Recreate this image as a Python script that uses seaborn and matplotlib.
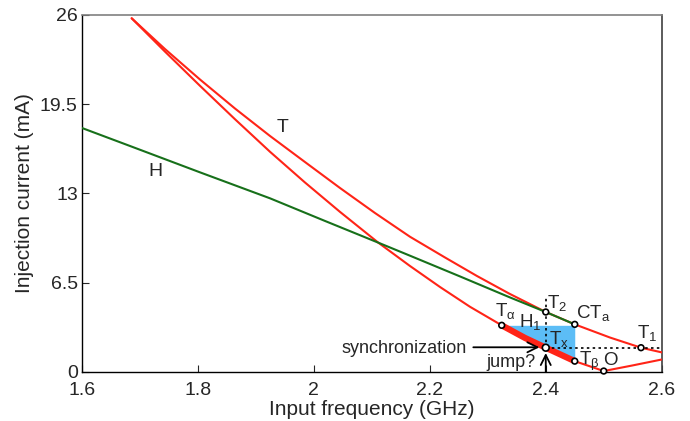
import matplotlib
matplotlib.use("Agg")
import matplotlib.pyplot as plt
import seaborn as sns
import pandas as pd

# ---- data ----
# outer red curve "T"
t_outer_f = [1.6857, 1.7432, 1.8036, 1.8639, 1.9243, 1.9847, 2.0451, 2.1054, 2.1658,
             2.2262, 2.2814, 2.3383, 2.40, 2.45, 2.5108, 2.5643, 2.60]
t_outer_i = [25.76, 23.52, 21.30, 19.19, 17.19, 15.29, 13.40, 11.58, 9.85,
             8.34, 6.99, 5.68, 4.37, 3.47, 2.51, 1.77, 1.43]
# inner red curve (through Talpha, Tx, Tbeta, O)
t_inner_f = [1.6857, 1.7432, 1.8036, 1.8639, 1.9243, 1.9847, 2.0451, 2.1111, 2.1658,
             2.2176, 2.2693, 2.3240, 2.3642, 2.40, 2.45, 2.50, 2.5488, 2.60]
t_inner_i = [25.76, 23.33, 20.84, 18.41, 16.04, 13.80, 11.66, 9.42, 7.72,
             6.19, 4.75, 3.40, 2.48, 1.77, 0.79, 0.07, 0.47, 0.91]
# green curve "H"
h_f = [1.60, 1.6828, 1.8036, 1.9243, 2.0192, 2.1111, 2.1658, 2.2521, 2.3383, 2.40, 2.45]
h_i = [17.77, 16.46, 14.54, 12.65, 11.00, 9.42, 8.47, 6.96, 5.43, 4.37, 3.47]
# synchronization band (thick red part of inner curve, Talpha -> Tbeta)
band_f = [2.3240, 2.3642, 2.40, 2.45]
band_i = [3.40, 2.48, 1.77, 0.79]
band_top = 3.40

# special points
pt_names = ["Talpha", "T2", "CTa", "Tx", "Tbeta", "O", "T1"]
pt_f = [2.3240, 2.40, 2.45, 2.40, 2.45, 2.50, 2.5643]
pt_i = [3.40, 4.37, 3.47, 1.77, 0.79, 0.07, 1.77]

x_ticks = [1.6, 1.8, 2.0, 2.2, 2.4, 2.6]
x_ticklabels = ["1.6", "1.8", "2", "2.2", "2.4", "2.6"]
y_ticks = [0, 6.5, 13, 19.5, 26]
y_ticklabels = ["0", "6.5", "13", "19.5", "26"]

# ---- style ----
sns.set_theme(style="white")
plt.rcParams["font.family"] = ["Liberation Sans", "DejaVu Sans"]
plt.rcParams["mathtext.fontset"] = "custom"
plt.rcParams["mathtext.rm"] = "Liberation Sans"
plt.rcParams["mathtext.it"] = "Liberation Sans"
plt.rcParams["mathtext.bf"] = "Liberation Sans"
plt.rcParams["mathtext.sf"] = "Liberation Sans"

RED = "#ff2417"
GREEN = "#17701a"
BLUE = "#5cbdf6"

fig = plt.figure(figsize=(6.9, 4.21), dpi=100)
ax = fig.add_axes([82 / 690, 1 - 372 / 421, (661.7 - 82) / 690, (372 - 15) / 421])

# blue region
ax.fill_between(band_f, band_i, [band_top] * len(band_f), color=BLUE, lw=0, zorder=1)

df_outer = pd.DataFrame({"f": t_outer_f, "i": t_outer_i})
df_inner = pd.DataFrame({"f": t_inner_f, "i": t_inner_i})
df_h = pd.DataFrame({"f": h_f, "i": h_i})
df_band = pd.DataFrame({"f": band_f, "i": band_i})

sns.lineplot(data=df_outer, x="f", y="i", sort=False, estimator=None, color=RED, lw=1.5, ax=ax, zorder=3)
sns.lineplot(data=df_inner, x="f", y="i", sort=False, estimator=None, color=RED, lw=1.5, ax=ax, zorder=3)
sns.lineplot(data=df_h, x="f", y="i", sort=False, estimator=None, color=GREEN, lw=1.5, ax=ax, zorder=3)
sns.lineplot(data=df_band, x="f", y="i", sort=False, estimator=None, color=RED, lw=4.5, ax=ax, zorder=4,
             solid_capstyle="butt")

# dotted guide lines
ax.plot([pt_f[3], pt_f[3]], [pt_i[3], 5.46], ls=(0, (1.5, 2)), color="black", lw=1.2, zorder=5)
ax.plot([pt_f[3], 2.60], [pt_i[3], pt_i[3]], ls=(0, (1.5, 2)), color="black", lw=1.2, zorder=5)

# markers
df_pts = pd.DataFrame({"f": pt_f, "i": pt_i, "name": pt_names})
sizes = [24 if n == "Tx" else 17 for n in pt_names]
sns.scatterplot(data=df_pts, x="f", y="i", s=sizes, facecolor="white", edgecolor="black",
                linewidth=1.2, ax=ax, zorder=6, clip_on=False)

# arrows
ax.annotate("", xy=(2.389, 1.80), xytext=(2.275, 1.80),
            arrowprops=dict(arrowstyle="->", lw=1.3, color="black", mutation_scale=18,
                            shrinkA=0, shrinkB=0), zorder=7)
ax.annotate("", xy=(2.40, 1.38), xytext=(2.40, 0.0),
            arrowprops=dict(arrowstyle="->", lw=1.3, color="black", mutation_scale=18,
                            shrinkA=0, shrinkB=0), zorder=7)

# text labels
ax.text(1.9467, 17.84, "T", fontsize=14, ha="center", va="center")
ax.text(1.7259, 14.57, "H", fontsize=14, ha="center", va="center")
lab = dict(fontsize=13.5, va="baseline", ha="left", zorder=8)
ax.text(2.4029, 4.66, r"T$_{2}$", **lab)
ax.text(2.4522, 3.91, r"CT$_{a}$", **lab)
ax.text(2.5569, 2.45, r"T$_{1}$", **lab)
ax.text(2.3124, 4.10, r"T$_{α}$", **lab)
ax.text(2.3545, 3.30, r"H$_{1}$", **lab)
ax.text(2.4061, 2.04, r"T$_{x}$", **lab)
ax.text(2.4579, 0.51, r"T$_{β}$", **lab)
ax.text(2.4982, 0.51, "O", **lab)
ax.text(2.048, 1.36, "synchronization", fontsize=13, ha="left", va="baseline")
ax.text(2.2981, 0.39, "jump?", fontsize=13, ha="left", va="baseline")

# axes
ax.set_xlim(1.6, 2.6)
ax.set_ylim(0, 26)
ax.set_xticks(x_ticks)
ax.set_xticklabels(x_ticklabels)
ax.set_yticks(y_ticks)
ax.set_yticklabels(y_ticklabels)
ax.tick_params(axis="both", direction="in", length=5, width=0.8, labelsize=14,
               bottom=True, left=True, top=False, right=False)
ax.tick_params(axis="x", pad=7)
ax.tick_params(axis="y", pad=3)
ax.set_xlabel("Input frequency (GHz)", fontsize=15, labelpad=1)
ax.set_ylabel("Injection current (mA)", fontsize=15, labelpad=4)
for side in ["left", "bottom"]:
    ax.spines[side].set_color("black")
    ax.spines[side].set_linewidth(1.0)
ax.spines["top"].set_color("#808080")
ax.spines["right"].set_color("#404040")
ax.spines["top"].set_linewidth(1.2)
ax.spines["right"].set_linewidth(1.2)

fig.savefig("out.png", dpi=100)
